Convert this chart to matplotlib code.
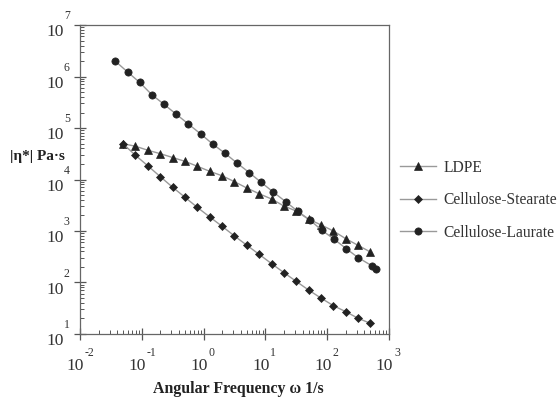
import matplotlib
matplotlib.use("Agg")
import matplotlib.pyplot as plt
from matplotlib.ticker import LogLocator, FixedLocator, NullFormatter

plt.rcParams['font.family'] = ['Liberation Serif', 'DejaVu Serif']

# angular frequency (1/s)
freq_ldpe = [0.05, 0.079, 0.126, 0.2, 0.316, 0.5, 0.79, 1.26, 2.0, 3.16, 5.0,
             7.9, 12.6, 20, 31.6, 50, 79, 126, 200, 316, 500]
freq_laurate = [0.037, 0.059, 0.092, 0.145, 0.229, 0.357, 0.565, 0.90, 1.40,
                2.19, 3.47, 5.48, 8.5, 13.4, 21.3, 33.3, 52.1, 81.5, 130, 204,
                318, 537, 617]

# |eta*| (Pa s)
eta_ldpe = [49500, 44200, 36900, 31700, 26700, 22500, 18100, 14400, 11800,
            9060, 6840, 5300, 4180, 3050, 2440, 1690, 1320, 1000, 708, 527, 391]
eta_stearate = [48900, 29500, 18300, 11300, 7060, 4510, 2880, 1870, 1230,
                800, 530, 353, 232, 155, 105, 71.4, 50.0, 35.5, 27.1, 20.2, 16.1]
eta_laurate = [2000000, 1220000, 771000, 444000, 288000, 187000, 120000,
               76400, 48900, 32700, 20900, 13600, 8830, 5710, 3710, 2420,
               1640, 1040, 690, 453, 303, 209, 180]

x_exp = [-2, -1, 0, 1, 2, 3]
y_exp = [1, 2, 3, 4, 5, 6, 7]

fig = plt.figure(figsize=(5.6, 3.97), dpi=100)
ax = fig.add_axes([0.1429, 0.1587, 0.5517, 0.7783])

mk = '#222222'
ln = '#999999'
ax.plot(freq_ldpe, eta_ldpe, '-^', color=ln, lw=1, mfc=mk, mec=mk, ms=5.6,
        mew=0.5, label='LDPE')
ax.plot(freq_ldpe, eta_stearate, '-D', color=ln, lw=1, mfc=mk, mec=mk, ms=3.7,
        mew=0.5, label='Cellulose-Stearate')
ax.plot(freq_laurate, eta_laurate, '-o', color=ln, lw=1, mfc=mk, mec=mk,
        ms=5.2, mew=0.5, label='Cellulose-Laurate')

ax.set_xscale('log')
ax.set_yscale('log')
ax.set_xlim(1e-2, 1e3)
ax.set_ylim(1e1, 1e7)

ax.xaxis.set_major_locator(FixedLocator([10.0 ** e for e in x_exp]))
ax.yaxis.set_major_locator(FixedLocator([10.0 ** e for e in y_exp]))
ax.xaxis.set_minor_locator(LogLocator(base=10, subs=range(2, 10), numticks=20))
ax.yaxis.set_minor_locator(LogLocator(base=10, subs=range(2, 10), numticks=20))
ax.xaxis.set_major_formatter(NullFormatter())
ax.yaxis.set_major_formatter(NullFormatter())
ax.xaxis.set_minor_formatter(NullFormatter())
ax.yaxis.set_minor_formatter(NullFormatter())

ax.tick_params(which='major', direction='inout', length=9, width=0.9,
               color='#555555')
ax.tick_params(which='minor', direction='in', length=3, width=0.7,
               color='#555555')
ax.tick_params(top=False, right=False)

for s in ax.spines.values():
    s.set_color('#666666')
    s.set_linewidth(0.9)

# tick labels drawn as "10" with a raised exponent, as in the original
tc = '#333333'
for e in x_exp:
    ax.annotate('10', xy=(10.0 ** e, 0), xycoords=ax.get_xaxis_transform(),
                xytext=(3, -26), textcoords='offset points', ha='right',
                va='baseline', fontsize=12.5, color=tc, annotation_clip=False)
    ax.annotate(str(e), xy=(10.0 ** e, 0), xycoords=ax.get_xaxis_transform(),
                xytext=(3.6, -15.6), textcoords='offset points', ha='left',
                va='baseline', fontsize=8.5, color=tc, annotation_clip=False)
for e in y_exp:
    ax.annotate('10', xy=(0, 10.0 ** e), xycoords=ax.get_yaxis_transform(),
                xytext=(-12, -8), textcoords='offset points', ha='right',
                va='baseline', fontsize=12.5, color=tc, annotation_clip=False)
    ax.annotate(str(e), xy=(0, 10.0 ** e), xycoords=ax.get_yaxis_transform(),
                xytext=(-11.6, 4), textcoords='offset points', ha='left',
                va='baseline', fontsize=8.5, color=tc, annotation_clip=False)

ax.set_xlabel('Angular Frequency ω 1/s', fontsize=11.4, fontweight='bold',
              color='#222222', va='top')
ax.xaxis.set_label_coords(0.511, -0.152)
ax.set_ylabel('|η*| Pa·s', fontsize=11, fontweight='bold', rotation=0,
              ha='left', va='center', color='#222222')
ax.yaxis.set_label_coords(-0.2265, 0.573)

leg = fig.legend(loc='upper left', bbox_to_anchor=(0.703, 0.613),
                 frameon=False, fontsize=11.2, handlelength=2.3,
                 handletextpad=0.5, labelspacing=1.05, borderaxespad=0)
for t in leg.get_texts():
    t.set_color('#333333')

fig.savefig('out.png', dpi=100)
